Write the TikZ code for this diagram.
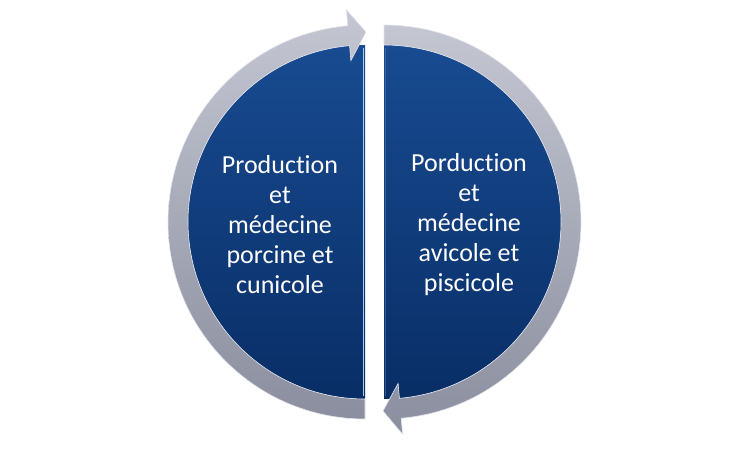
\documentclass[tikz,border=0pt]{standalone}
\usepackage{fontspec}
\usetikzlibrary{calc}
\setmainfont{Carlito}[Ligatures=NoCommon]
\definecolor{bluetop}{RGB}{24,75,145}
\definecolor{bluebot}{RGB}{9,46,102}
\definecolor{ringtop}{RGB}{196,199,210}
\definecolor{ringbot}{RGB}{138,142,158}
\definecolor{ringedge}{RGB}{225,228,238}
\definecolor{edgeblue}{RGB}{160,205,245}
\begin{document}
\begin{tikzpicture}[x=1pt,y=1pt,
  half/.style={top color=bluetop,bottom color=bluebot,draw=none},
  ring/.style={top color=ringtop,bottom color=ringbot,draw=ringedge,line width=0.6pt,line join=miter},
  lbl/.style={text=white,align=center,font=\fontsize{26}{30}\selectfont}]
\useasboundingbox (0,0) rectangle (750,450);
\coordinate (cL) at (365,228);
\coordinate (cR) at (384,228);
% blue half disks
\shade[half] (365,405) arc[start angle=90,end angle=270,radius=177] -- cycle;
\shade[half] (384,51) arc[start angle=-90,end angle=90,radius=177] -- cycle;
\draw[edgeblue,line width=1.4pt] (363.5,402) -- (363.5,54);
\draw[bluetop!70!white,line width=1pt,opacity=0.5] (385.5,402) -- (385.5,54);
% left ring with arrowhead at top
\shade[ring] (365,31) arc[start angle=270,end angle=95,radius=197]
  -- ($(cL)+(95:213)$) -- (366,418) -- ($(cL)+(95:162)$) -- ($(cL)+(95:177)$)
  arc[start angle=95,end angle=270,radius=177] -- cycle;
% right ring with arrowhead at bottom
\shade[ring] (384,425) arc[start angle=90,end angle=-85,radius=197]
  -- ($(cR)+(-85:213)$) -- (383,39) -- ($(cR)+(-85:162)$) -- ($(cR)+(-85:177)$)
  arc[start angle=-85,end angle=90,radius=177] -- cycle;
% labels
\node[lbl] (left) at (280,225) {Production\\et\\médecine\\porcine et\\cunicole};
\node[lbl] (right) at (469,225) {Porduction\\et\\médecine\\avicole et\\piscicole};
\end{tikzpicture}
\end{document}
